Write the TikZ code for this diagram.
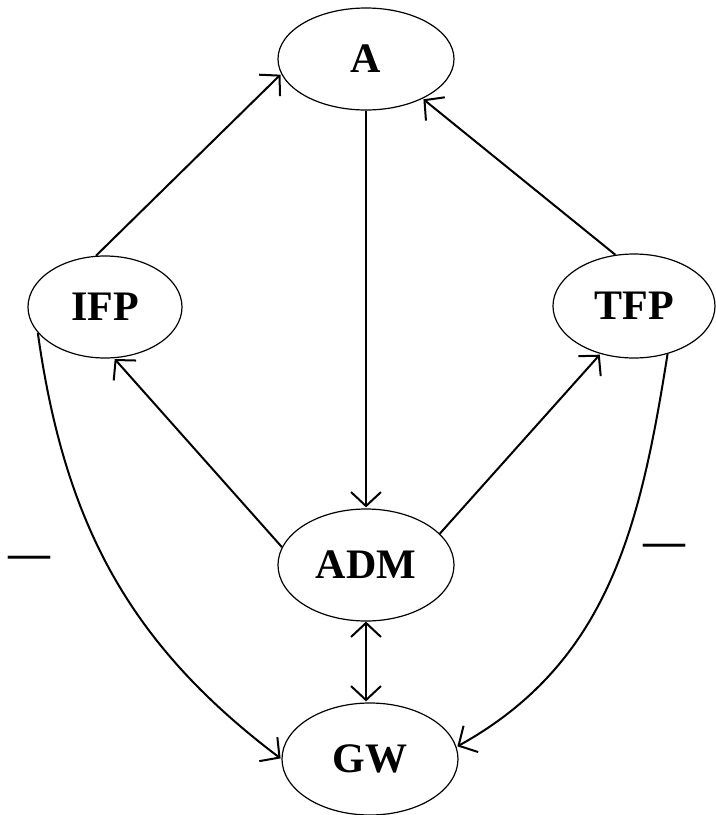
\documentclass[tikz,border=0pt]{standalone}
\usepackage{fontspec}
\setmainfont{Liberation Serif}
\usetikzlibrary{positioning,shapes.geometric,arrows.meta}

\begin{document}
\begin{tikzpicture}[x=1pt, y=1pt, on grid, shorten >=0.5pt, line width=1pt, >={Straight Barb[length=7pt,width=15pt]},
	main node/.style={ellipse, draw, line width=0.6pt, inner sep=0pt, font=\fontsize{21}{25}\selectfont\bfseries},
	sign node/.style={font=\fontsize{21}{25}\selectfont\bfseries}]
	\useasboundingbox (0,0) rectangle (358,-407.5);
	\node[main node, minimum width=88pt, minimum height=51pt] (A) at (183,-29.5) {A};
	\node[main node, minimum width=77pt, minimum height=51pt] (IFP) [below left=124pt and 130.5pt of A] {IFP};
	\node[main node, minimum width=81pt, minimum height=52pt] (TFP) [below right=123.5pt and 134pt of A] {TFP};
	\node[main node, minimum width=88pt, minimum height=56pt] (ADM) [below=253pt of A] {ADM};
	\node[main node, minimum width=88pt, minimum height=56pt] (GW) [below right=97pt and 2pt of ADM] {GW};
	\node[sign node] (negIFP) at (15,-281) {---};
	\node[sign node] (negTFP) at (332,-275) {---};
	\path[->]
		(A.south) edge (ADM.north)
		(IFP.100) edge (A.190)
		(TFP.110) edge (A.-35)
		(ADM.168) edge (IFP.-80)
		(ADM.23) edge (TFP.-125)
		(IFP.201) edge[out=-82, in=143] (GW.west)
		(TFP.-55) edge[out=-99, in=29] (GW.8);
	\draw[<->] (ADM.south) -- (ADM.south |- GW.north);
\end{tikzpicture}
\end{document}
